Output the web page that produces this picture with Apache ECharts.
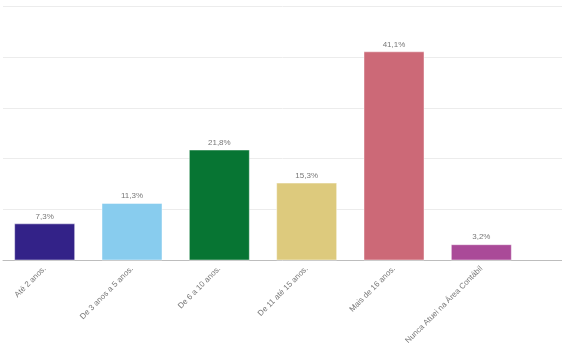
<!DOCTYPE html>
<html>
<head>
<meta charset="utf-8">
<script src="https://cdn.jsdelivr.net/npm/echarts@6/dist/echarts.min.js"></script>
<style>
  html, body { margin: 0; padding: 0; background: #fff; }
  #chart { width: 562px; height: 344px; }
</style>
</head>
<body>
<div id="chart"></div>
<script>
// Tempo de atuação na área contábil (% de respondentes)
const categories = [
  'Até 2 anos.',
  'De 3 anos a 5 anos.',
  'De 6 a 10 anos.',
  'De 11 até 15 anos.',
  'Mais de 16 anos.',
  'Nunca Atuei na Área Contábil'
];
const values = [7.3, 11.3, 21.8, 15.3, 41.1, 3.2];
const colors = ['#332288', '#88CCEE', '#077533', '#DDCA7D', '#CC6977', '#AA4A98'];

const fmt = v => v.toFixed(1).replace('.', ',') + '%';
const font = "'Liberation Sans', 'DejaVu Sans', sans-serif";

const chart = echarts.init(document.getElementById('chart'), null, { renderer: 'canvas' });
chart.setOption({
  animation: false,
  grid: [
    // full-width background grid carrying gridlines and baseline
    { left: 3, right: 0, top: 6, bottom: 83.5, containLabel: false, outerBoundsMode: 'none' },
    // bar area
    { left: 1, right: 37, top: 6, bottom: 83.5, containLabel: false, outerBoundsMode: 'none' }
  ],
  xAxis: [
    {
      gridIndex: 0, type: 'value', min: 0, max: 1,
      axisLine: { show: true, onZero: false, lineStyle: { color: '#bdbdbd', width: 1 } },
      axisTick: { show: false }, axisLabel: { show: false }, splitLine: { show: false }
    },
    {
      gridIndex: 1, type: 'category', data: categories,
      axisLine: { show: false }, axisTick: { show: false },
      axisLabel: {
        interval: 0, rotate: 45, margin: 7,
        color: '#777', fontSize: 8, fontFamily: font
      }
    }
  ],
  yAxis: [
    {
      gridIndex: 0, type: 'value', min: 0, max: 50, interval: 10,
      axisLine: { show: false }, axisTick: { show: false }, axisLabel: { show: false },
      splitLine: { lineStyle: { color: '#ececec', width: 1 } }
    },
    {
      gridIndex: 1, type: 'value', min: 0, max: 50, interval: 10,
      axisLine: { show: false }, axisTick: { show: false }, axisLabel: { show: false },
      splitLine: { show: false }
    }
  ],
  series: [{
    type: 'bar',
    xAxisIndex: 1, yAxisIndex: 1,
    data: values.map((v, i) => ({ value: v, itemStyle: { color: colors[i] } })),
    barWidth: 61,
    itemStyle: { borderColor: 'rgba(255,255,255,0.45)', borderWidth: 1 },
    label: {
      show: true, position: 'top', distance: 3,
      color: '#777', fontSize: 8, fontFamily: font,
      formatter: p => fmt(p.value)
    }
  }]
});
</script>
</body>
</html>
